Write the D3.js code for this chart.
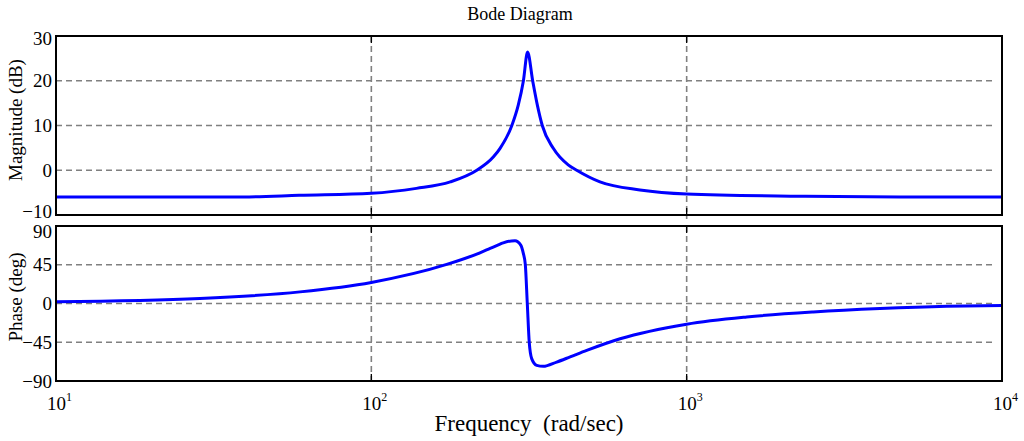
<!DOCTYPE html>
<html><head><meta charset="utf-8">
<script src="https://cdn.jsdelivr.net/npm/d3@7"></script>
<style>
body{margin:0;background:#fff;}
svg{display:block;font-family:"Liberation Serif","Times New Roman",serif;}
</style></head>
<body>
<svg id="chart" width="1024" height="441"></svg>
<script>
// ---- data ----
const magFreq = [10, 20, 41, 59, 100, 139, 178, 216, 244, 256, 279, 292.5, 303.4, 313, 325, 336, 348.4, 377.6, 421, 448, 531, 711, 1000, 2286, 4750, 10000];
const magDb   = [-6.0, -6.0, -5.95, -5.6, -5.15, -4.05, -2.6, 0.0, 3.0, 4.9, 10.0, 14.6, 19.9, 26.4, 19.9, 14.6, 10.0, 4.9, 1.2, 0.0, -2.6, -4.4, -5.3, -5.8, -6.0, -6.0];
const phFreq  = [10, 28.6, 59.4, 100, 173.4, 221, 238, 256, 262, 285.5, 297.7, 303.4, 307.8, 312.3, 316.9, 322.5, 334.5, 351, 387, 427, 482, 615, 1000, 1550, 2521, 4104, 6677, 10000];
const phDeg   = [1.9, 5.8, 13.5, 24.5, 45.4, 58.9, 64.0, 69.0, 70.5, 72.9, 67.8, 58.2, 45.4, 0.0, -45.8, -64.0, -71.8, -73.0, -68.0, -62.0, -54.5, -41.0, -24.0, -15.6, -9.8, -5.8, -3.1, -2.2];
const xTickExps = [1, 2, 3, 4];
const magTicks = [30, 20, 10, 0, -10];
const phTicks = [90, 45, 0, -45, -90];
const magGrid = [20, 10, 0];
const phGrid = [45, 0, -45];
const title = "Bode Diagram";
const magLabel = "Magnitude (dB)";
const phLabel = "Phase (deg)";
const xLabel = "Frequency  (rad/sec)";

// ---- layout ----
const L = 56, R = 1002;
const magTop = 36, magBot = 215;
const phTop = 226, phBot = 381;

const svg = d3.select("#chart");
const x = d3.scaleLog().domain([10, 10000]).range([L, R]);
const yMag = d3.scaleLinear().domain([-10, 30]).range([magBot, magTop]);
const yPh = d3.scaleLinear().domain([-90, 90]).range([phBot, phTop]);

const gridColor = "#808080";
const dash = "6,4";

function panel(y, top, bot, grid, ticks, fx, fy, label, labelY, nudge) {
  const g = svg.append("g");
  g.selectAll("line.hg").data(grid).enter().append("line")
    .attr("x1", L).attr("x2", R - 6)
    .attr("y1", d => y(d)).attr("y2", d => y(d))
    .attr("stroke", gridColor).attr("stroke-width", 1.6).attr("stroke-dasharray", dash);
  g.selectAll("line.vg").data([100, 1000]).enter().append("line")
    .attr("x1", d => x(d)).attr("x2", d => x(d))
    .attr("y1", top).attr("y2", bot + 4)
    .attr("stroke", gridColor).attr("stroke-width", 1.6).attr("stroke-dasharray", dash);
  [100, 1000].forEach(v => {
    g.append("line").attr("x1", x(v)).attr("x2", x(v)).attr("y1", bot).attr("y2", bot - 7)
      .attr("stroke", "#000").attr("stroke-width", 1.3);
    g.append("line").attr("x1", x(v)).attr("x2", x(v)).attr("y1", top).attr("y2", top + 7)
      .attr("stroke", "#000").attr("stroke-width", 1.3);
  });
  const ax = d3.axisLeft(y).tickValues(ticks).tickSize(0).tickPadding(4).tickFormat(d3.format("d"));
  const ag = g.append("g").attr("transform", `translate(${L},0)`).call(ax);
  ag.select(".domain").remove();
  ag.selectAll("text").attr("font-size", 19).attr("fill", "#000")
    .attr("font-family", "Liberation Serif, serif")
    .attr("dy", d => (0.32 + (nudge[d] || 0)) + "em");
  const line = d3.line().x(d => x(d[0])).y(d => y(d[1])).curve(d3.curveMonotoneX);
  g.append("path").datum(d3.zip(fx, fy))
    .attr("d", line).attr("fill", "none").attr("stroke", "#0000ff").attr("stroke-width", 3)
    .attr("stroke-linejoin", "round");
  g.append("rect").attr("x", L).attr("y", top).attr("width", R - L).attr("height", bot - top)
    .attr("fill", "none").attr("stroke", "#000").attr("stroke-width", 2);
  g.append("text").attr("transform", `translate(22,${labelY}) rotate(-90)`)
    .attr("text-anchor", "middle").attr("font-size", 19).text(label);
}

panel(yMag, magTop, magBot, magGrid, magTicks, magFreq, magDb, magLabel, 120, {30: 0.12, "-10": -0.2});
panel(yPh, phTop, phBot, phGrid, phTicks, phFreq, phDeg, phLabel, 297, {90: 0.3});

const xt = svg.append("g");
xTickExps.forEach(e => {
  const t = xt.append("text").attr("x", x(Math.pow(10, e)) - 9).attr("y", 410)
    .attr("font-size", 19);
  t.append("tspan").text("10");
  t.append("tspan").attr("dy", -9).attr("font-size", 12).text(String(e));
});

svg.append("text").attr("x", 520).attr("y", 20).attr("text-anchor", "middle")
  .attr("font-size", 18).text(title);

svg.append("text").attr("x", 529).attr("y", 431).attr("text-anchor", "middle")
  .attr("font-size", 23).style("white-space", "pre").attr("xml:space", "preserve").text(xLabel);
</script>
</body></html>
